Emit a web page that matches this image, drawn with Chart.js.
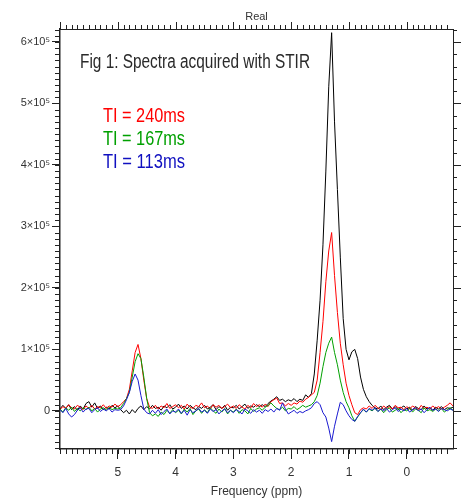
<!DOCTYPE html>
<html>
<head>
<meta charset="utf-8">
<script src="https://cdn.jsdelivr.net/npm/chart.js@4.4.1/dist/chart.umd.min.js"></script>
<style>
  html, body { margin: 0; padding: 0; background: #fff; }
  #myChart { display: block; }
</style>
</head>
<body>
<canvas id="myChart" width="465" height="499"></canvas>
<script>
// chemical shift (ppm), shared by all traces
const ppm = [
  6.00, 5.95, 5.90, 5.85, 5.80, 5.75, 5.70, 5.65, 5.60, 5.55,
  5.50, 5.45, 5.40, 5.35, 5.30, 5.25, 5.20, 5.15, 5.10, 5.05,
  5.00, 4.95, 4.90, 4.85, 4.80, 4.75, 4.70, 4.65, 4.60, 4.55,
  4.50, 4.45, 4.40, 4.35, 4.30, 4.25, 4.20, 4.15, 4.10, 4.05,
  4.00, 3.95, 3.90, 3.85, 3.80, 3.75, 3.70, 3.65, 3.60, 3.55,
  3.50, 3.45, 3.40, 3.35, 3.30, 3.25, 3.20, 3.15, 3.10, 3.05,
  3.00, 2.95, 2.90, 2.85, 2.80, 2.75, 2.70, 2.65, 2.60, 2.55,
  2.50, 2.45, 2.40, 2.35, 2.30, 2.25, 2.20, 2.15, 2.10, 2.05,
  2.00, 1.95, 1.90, 1.85, 1.80, 1.75, 1.70, 1.65, 1.60, 1.55,
  1.50, 1.45, 1.40, 1.35, 1.30, 1.25, 1.20, 1.15, 1.10, 1.05,
  1.00, 0.95, 0.90, 0.85, 0.80, 0.75, 0.70, 0.65, 0.60, 0.55,
  0.50, 0.45, 0.40, 0.35, 0.30, 0.25, 0.20, 0.15, 0.10, 0.05,
  0.00, -0.05, -0.10, -0.15, -0.20, -0.25, -0.30, -0.35, -0.40, -0.45,
  -0.50, -0.55, -0.60, -0.65, -0.70, -0.75, -0.80
]

// signal, in units of 10^4
const noInversion = [
  0.3, 0.9, 0.4, 1.0, 0.2, 0.7, 0.1, 0.8, 0.3, 1.2,
  1.5, 0.6, 1.3, 0.4, 0.8, 0.2, 0.6, 0.3, 0.9, 0.5,
  0.8, 0.2, -0.3, 0.1, -0.5, 0.2, -0.3, 0.4, 0.8, 0.2,
  0.7, 0.3, 0.9, 0.4, 0.6, 0.1, 0.8, 0.5, 1.0, 0.3,
  0.6, 1.1, 0.4, 0.8, 0.3, 0.9, 0.5, 0.2, 0.7, 0.4,
  0.9, 0.3, 0.6, 1.0, 0.2, 0.7, 0.4, 0.9, 0.1, 0.6,
  0.5, 0.9, 0.3, 0.7, 1.1, 0.4, 0.8, 0.6, 1.0, 0.7,
  1.0, 0.7, 1.2, 1.6, 1.9, 2.3, 1.7, 1.9, 1.5, 1.8,
  1.6, 2.0, 1.5, 1.9, 1.7, 2.6, 2.2, 2.8, 6.0, 11.5,
  18, 27, 39, 52.7, 61.5, 47, 36, 25, 15, 10,
  8.3, 9.6, 10.0, 8.5, 5.5, 3.5, 2.3, 1.5, 0.9, 0.5,
  0.3, 0.8, 0.2, 0.6, 0.9, 0.3, 0.7, 0.2, 0.5, 0.8,
  0.3, 0.6, 0.1, 0.7, 0.4, 0.2, 0.8, 0.3, 0.5, 0.1,
  0.6, 0.3, 0.7, 0.2, 0.5, 0.4, 0.6
]
const ti240 = [
  0.2, 0.7, 0.4, 1.0, 0.5, 0.3, 0.9, 0.6, 0.2, 0.8,
  0.4, 0.9, 0.3, 0.7, 0.5, 1.0, 0.4, 0.8, 0.6, 1.1,
  0.7, 1.0, 1.5, 2.0, 3.5, 6.5, 9.5, 10.8, 8.5, 5.0,
  2.0, 0.6, 0.4, 0.9, 0.3, 0.8, 0.5, 1.2, 0.4, 0.7,
  1.0, 0.5, 0.9, 0.3, 1.1, 0.6, 0.4, 0.9, 0.7, 1.3,
  0.5, 0.8, 0.3, 1.0, 0.6, 0.9, 0.4, 0.7, 1.1, 0.5,
  0.8, 0.4, 1.0, 0.6, 0.3, 0.9, 0.5, 1.2, 0.7, 1.0,
  0.6, 1.1, 0.7, 1.5, 1.8, 2.1, 1.2, 1.3, 0.8, 1.2,
  0.9, 1.3, 1.1, 1.6, 1.4, 1.9, 2.2, 2.6, 3.0, 5.0,
  9.5, 14.5, 21, 26, 29, 22, 16, 11, 7.5, 4.5,
  2.5, 1.0, -0.3, -0.6, 0.2, 0.5, 0.3, 0.8, 0.4, 0.9,
  0.5, 0.2, 0.8, 0.4, 0.7, 0.3, 0.9, 0.5, 0.6, 0.2,
  0.7, 0.3, 0.8, 0.5, 0.2, 0.9, 0.4, 0.6, 0.3, 0.8,
  0.4, 0.7, 0.3, 0.6, 0.9, 1.3, 0.8
]
const ti167 = [
  0.3, -0.2, 0.5, 0.1, 0.6, -0.1, 0.4, 0.0, 0.5, 0.2,
  0.6, 0.0, 0.4, -0.2, 0.3, 0.5, 0.1, 0.6, 0.2, 0.4,
  0.3, 0.5, 1.2, 2.0, 3.0, 5.5, 8.0, 9.3, 8.5, 5.5,
  2.0, -0.3, -0.8, -0.5, -0.9, -0.2, -0.6, 0.1, -0.4, 0.2,
  -0.3, 0.1, -0.5, 0.3, -0.2, 0.4, -0.6, 0.0, 0.3, -0.4,
  0.2, -0.3, 0.5, 0.0, -0.4, 0.3, -0.2, 0.4, -0.5, 0.1,
  -0.2, 0.3, -0.4, 0.2, 0.0, -0.5, 0.4, -0.1, 0.3, 0.5,
  0.1, 0.6, 0.9, 1.3, 0.8, 0.4, 0.2, 0.6, 0.0, 0.4,
  0.3, 0.7, 0.2, 0.5, 0.9, 0.6, 0.8, 1.0, 1.5, 2.5,
  4.5, 7.2, 9.5, 11, 12, 9.5, 7.5, 5, 3, 1.5,
  0.5, -0.8, -1.7, -1.0, -0.3, 0.2, -0.2, 0.3, 0.0, 0.4,
  -0.1, 0.3, -0.3, 0.2, 0.5, -0.2, 0.1, 0.4, -0.3, 0.2,
  0.0, 0.4, -0.2, 0.3, 0.1, -0.3, 0.5, 0.0, 0.2, -0.1,
  0.3, 0.0, 0.4, -0.2, 0.2, 0.5, 0.1
]
const ti113 = [
  0.2, -0.3, 0.4, -0.5, -1.0, -0.6, 0.1, 0.5, -0.2, 0.3,
  0.4, -0.3, 0.2, 0.5, -0.1, 0.3, 0.0, 0.4, -0.2, 0.2,
  0.1, 0.2, 0.8, 1.8, 3.0, 4.8, 6.0, 5.0, 2.5, 0.3,
  -0.3, -0.5, 0.1, -0.4, 0.2, -0.6, -0.1, 0.3, -0.5, 0.0,
  -0.2, 0.3, -0.4, 0.1, -0.7, 0.2, -0.3, 0.0, 0.4, -0.2,
  0.1, -0.4, 0.3, -0.1, 0.2, -0.5, 0.0, 0.3, -0.3, 0.1,
  -0.3, 0.2, -0.1, -0.5, 0.3, 0.0, -0.4, 0.2, -0.2, 0.1,
  -0.4, 0.2, -0.1, 0.3, -0.2, 0.4, 0.1, 1.3, 0.3, -0.5,
  -0.2, 0.1, -0.4, -0.1, -0.3, 0.0, 0.2, 0.5, 1.2, 1.5,
  1.0, -0.3, -1.0, -2.8, -5.0, -2.5, -0.5, 1.4, 1.0, 0.0,
  -0.8, -1.4, -1.7, -0.9, -0.3, 0.3, -0.2, 0.4, 0.1, 0.5,
  -0.1, 0.3, 0.0, 0.4, -0.2, 0.2, 0.5, -0.1, 0.3, 0.0,
  0.4, -0.2, 0.2, 0.5, 0.0, 0.3, -0.3, 0.2, 0.6, 0.1,
  0.3, -0.1, 0.4, 0.2, 0.0, 0.3, 0.1
]

const xTickValues = [5, 4, 3, 2, 1, 0]
const xTickLabels = ['5', '4', '3', '2', '1', '0']
const yTickValues = [0, 100000, 200000, 300000, 400000, 500000, 600000]
const yTickLabels = ['0', '1×10⁵', '2×10⁵', '3×10⁵', '4×10⁵', '5×10⁵', '6×10⁵']

const legendLabels = ['TI = 240ms', 'TI = 167ms', 'TI = 113ms']
const legendColors = ['#ff0000', '#00a000', '#1010c0']

const toPoints = (arr) => arr.map((v, i) => ({ x: ppm[i], y: v * 1e4 }))

const fontFam = '"Liberation Sans", Arial, sans-serif'

// minor ticks, top/right axes and the text inside the plot
const frame = {
    id: 'frame',
    afterDraw(chart) {
        const { ctx, chartArea: a, scales: { x, y } } = chart
        ctx.save()
        ctx.strokeStyle = '#222'
        ctx.lineWidth = 1
        ctx.beginPath()
        ctx.moveTo(a.left, a.top + 0.5)
        ctx.lineTo(a.right, a.top + 0.5)
        ctx.moveTo(a.right + 0.5, a.top)
        ctx.lineTo(a.right + 0.5, a.bottom)
        for (let k = -7; k <= 60; k++) {
            const px = Math.round(x.getPixelForValue(k / 10)) + 0.5
            const major = k % 10 === 0
            ctx.moveTo(px, a.bottom)
            ctx.lineTo(px, a.bottom + 5)
            ctx.moveTo(px, a.top)
            ctx.lineTo(px, a.top - (major ? 7 : 4))
        }
        for (let k = -6; k <= 62; k++) {
            const py = Math.round(y.getPixelForValue(k * 1e4)) + 0.5
            ctx.moveTo(a.left - 5, py)
            ctx.lineTo(a.left, py)
            if (k % 2 === 0) {
                ctx.moveTo(a.right, py)
                ctx.lineTo(a.right + (k % 10 === 0 ? 8 : 4), py)
            }
        }
        ctx.stroke()

        ctx.fillStyle = '#333'
        ctx.font = '11px ' + fontFam
        ctx.textAlign = 'center'
        ctx.fillText('Real', (a.left + a.right) / 2, 20)

        ctx.textAlign = 'left'
        ctx.font = '20px ' + fontFam
        ctx.fillStyle = '#2a2a2a'
        ctx.fillText('Fig 1: Spectra acquired with STIR', 80, 68, 230)
        const base = [122, 145, 168]
        legendLabels.forEach((t, i) => {
            ctx.fillStyle = legendColors[i]
            ctx.fillText(t, 103, base[i], 82)
        })
        ctx.restore()
    }
}

const ctx = document.getElementById('myChart').getContext('2d')

const line = (label, arr, color, order) => ({
    label,
    data: toPoints(arr),
    borderColor: color,
    backgroundColor: color,
    borderWidth: 1,
    pointRadius: 0,
    tension: 0,
    order
})

const myChart = new Chart(ctx, {
    type: 'line',
    data: {
        datasets: [
            line('TI = 113ms', ti113, '#1a1ad0', 1),
            line('TI = 167ms', ti167, '#00a000', 2),
            line('TI = 240ms', ti240, '#ff0000', 3),
            line('no inversion', noInversion, '#000000', 4)
        ]
    },
    options: {
        responsive: false,
        animation: false,
        layout: { padding: { left: 0, top: 29, right: 12, bottom: 0 } },
        plugins: { legend: { display: false }, tooltip: { enabled: false } },
        scales: {
            x: {
                type: 'linear',
                reverse: true,
                min: -0.8,
                max: 6.0,
                afterFit: (s) => { s.height = 50 },
                afterBuildTicks: (s) => { s.ticks = xTickValues.map(v => ({ value: v })) },
                border: { display: true, color: '#222', width: 1.5 },
                grid: { display: true, drawOnChartArea: false, drawTicks: true, tickLength: 10, color: '#222' },
                ticks: {
                    padding: 6,
                    color: '#333',
                    font: { family: fontFam, size: 12 },
                    maxRotation: 0,
                    callback: (v) => xTickLabels[xTickValues.indexOf(v)]
                },
                title: {
                    display: true,
                    text: 'Frequency (ppm)',
                    color: '#333',
                    font: { family: fontFam, size: 12 },
                    padding: { top: 2, bottom: 0 }
                }
            },
            y: {
                type: 'linear',
                min: -62000,
                max: 621000,
                afterFit: (s) => { s.width = 60 },
                afterBuildTicks: (s) => { s.ticks = yTickValues.map(v => ({ value: v })) },
                border: { display: true, color: '#222', width: 1.5 },
                grid: { display: true, drawOnChartArea: false, drawTicks: true, tickLength: 8, color: '#222' },
                ticks: {
                    padding: 2,
                    color: '#333',
                    font: { family: fontFam, size: 11 },
                    callback: (v) => yTickLabels[yTickValues.indexOf(v)]
                }
            }
        }
    },
    plugins: [frame]
})
</script>
</body>
</html>
